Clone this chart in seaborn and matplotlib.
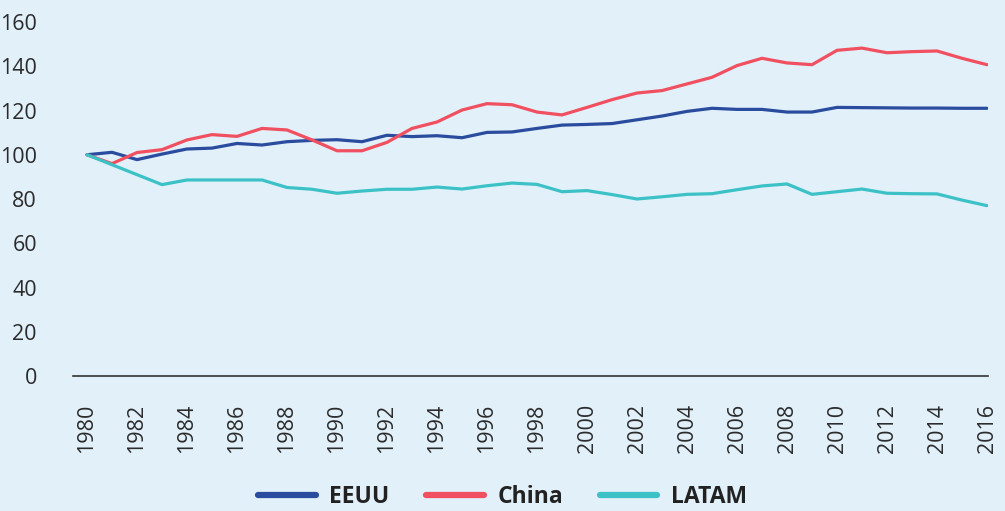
import matplotlib
matplotlib.use("Agg")
import matplotlib.pyplot as plt
import seaborn as sns
import pandas as pd
from matplotlib.lines import Line2D

years = list(range(1980, 2017))
eeuu = [100, 101.1, 97.8, 100.3, 102.6, 103.0, 105.1, 104.4, 105.9, 106.5, 106.8, 105.9,
        108.8, 108.2, 108.6, 107.7, 110.1, 110.3, 111.9, 113.4, 113.7, 114.1, 115.8, 117.5,
        119.6, 121.0, 120.5, 120.5, 119.3, 119.3, 121.4, 121.3, 121.2, 121.1, 121.1, 121.0, 121.0]
china = [100, 96.0, 101.0, 102.3, 106.7, 109.1, 108.3, 111.9, 111.2, 106.7, 101.8, 101.8,
         105.6, 111.9, 114.8, 120.2, 123.1, 122.6, 119.3, 118.0, 121.4, 124.9, 127.9, 129.0,
         132.0, 135.0, 140.3, 143.6, 141.5, 140.7, 147.2, 148.2, 146.1, 146.6, 146.9, 143.6, 140.7]
latam = [100, 95.5, 91.0, 86.5, 88.6, 88.6, 88.6, 88.6, 85.2, 84.4, 82.6, 83.6,
         84.4, 84.4, 85.4, 84.5, 86.0, 87.2, 86.6, 83.3, 83.8, 82.0, 80.0, 81.0,
         82.1, 82.4, 84.2, 85.9, 86.8, 82.1, 83.3, 84.5, 82.6, 82.4, 82.3, 79.5, 77.0]
series_names = ["EEUU", "China", "LATAM"]
colors = ["#2a4c9e", "#f0505f", "#3cc2c6"]
yticks = [0, 20, 40, 60, 80, 100, 120, 140, 160]
xticks = list(range(1980, 2017, 2))

df = pd.concat([
    pd.DataFrame({"year": years, "value": v, "serie": n})
    for n, v in zip(series_names, [eeuu, china, latam])
])

bg = "#e2f0fa"
sns.set_theme(style="white")
plt.rcParams["font.family"] = ["Open Sans", "DejaVu Sans"]

fig = plt.figure(figsize=(10.05, 5.11), dpi=100, facecolor=bg)
ax = fig.add_axes([73/1005, 1 - 376/511, (988-73)/1005, (376-22)/511])
ax.set_facecolor(bg)

sns.lineplot(data=df, x="year", y="value", hue="serie", hue_order=series_names,
             palette=colors, linewidth=2.3, ax=ax, legend=False)

ax.set_xlim(1979.44, 2016.04)
ax.set_ylim(0, 160)
ax.set_yticks(yticks)
ax.set_yticklabels([str(t) for t in yticks])
ax.set_xticks(xticks)
ax.set_xticklabels([str(t) for t in xticks], rotation=90)
ax.tick_params(axis="both", length=0, labelsize=15.5, colors="#2b2b2b")
ax.tick_params(axis="y", pad=26)
ax.tick_params(axis="x", pad=20)
ax.set_xlabel("")
ax.set_ylabel("")
for s in ["top", "right", "left"]:
    ax.spines[s].set_visible(False)
ax.spines["bottom"].set_color("#333333")
ax.spines["bottom"].set_linewidth(1.2)
ax.grid(False)

handles = [Line2D([0], [0], color=c, linewidth=4.5, solid_capstyle="round") for c in colors]
leg = fig.legend(handles, series_names, loc="center", bbox_to_anchor=(0.5, 1 - 497/511),
                 ncol=3, frameon=False, handlelength=2.5, columnspacing=1.6, handletextpad=0.6,
                 prop={"family": ["Open Sans", "DejaVu Sans"], "weight": "bold", "size": 16.5})
for t in leg.get_texts():
    t.set_color("#222222")

fig.savefig("out.png", dpi=100, facecolor=bg)
